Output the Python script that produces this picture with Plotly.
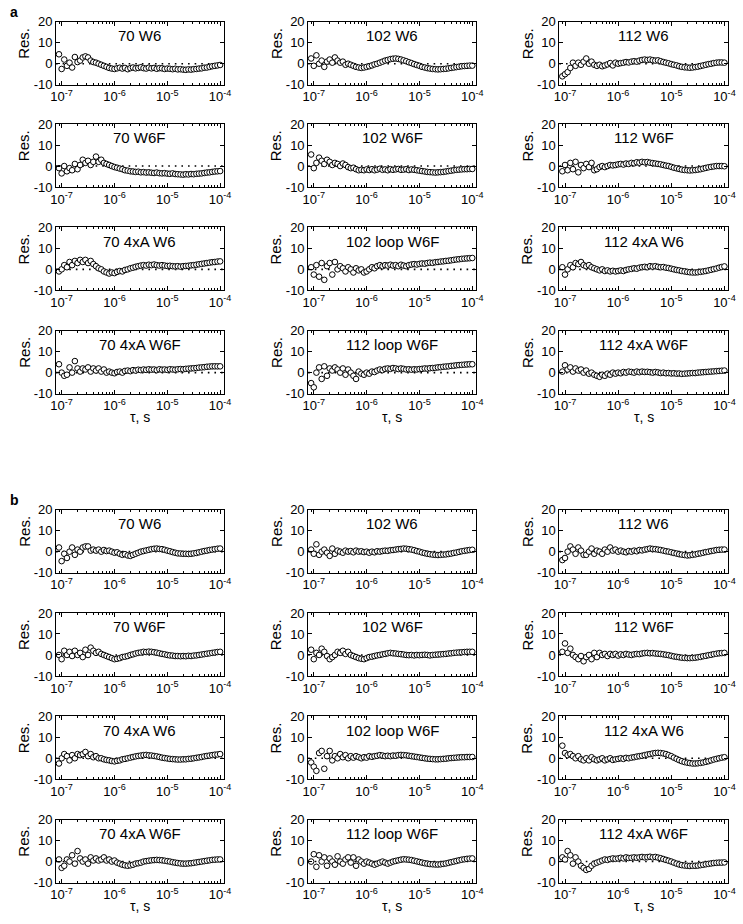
import plotly.graph_objects as go

# ---------------- data ----------------
tau = [8.91e-8, 1.00e-7, 1.12e-7, 1.26e-7, 1.41e-7, 1.58e-7, 1.78e-7, 2.00e-7, 2.24e-7, 2.51e-7,
       2.82e-7, 3.16e-7, 3.55e-7, 3.98e-7, 4.47e-7, 5.01e-7, 5.62e-7, 6.31e-7, 7.08e-7, 7.94e-7,
       8.91e-7, 1.00e-6, 1.12e-6, 1.26e-6, 1.41e-6, 1.58e-6, 1.78e-6, 2.00e-6, 2.24e-6, 2.51e-6,
       2.82e-6, 3.16e-6, 3.55e-6, 3.98e-6, 4.47e-6, 5.01e-6, 5.62e-6, 6.31e-6, 7.08e-6, 7.94e-6,
       8.91e-6, 1.00e-5, 1.12e-5, 1.26e-5, 1.41e-5, 1.58e-5, 1.78e-5, 2.00e-5, 2.24e-5, 2.51e-5,
       2.82e-5, 3.16e-5, 3.55e-5, 3.98e-5, 4.47e-5, 5.01e-5, 5.62e-5, 6.31e-5, 7.08e-5, 7.94e-5,
       8.91e-5, 1.00e-4]

titles = ["70 W6", "102 W6", "112 W6",
          "70 W6F", "102 W6F", "112 W6F",
          "70 4xA W6", "102 loop W6F", "112 4xA W6",
          "70 4xA W6F", "112 loop W6F", "112 4xA W6F"]

x_tickvals = [1e-7, 1e-6, 1e-5, 1e-4]
x_ticktext = ["10<sup>-7</sup>", "10<sup>-6</sup>", "10<sup>-5</sup>", "10<sup>-4</sup>"]
y_tickvals = [-10, 0, 10, 20]
y_ticktext = ["-10", "0", "10", "20"]

# ---- section a ----
res_a_70_W6 = [4.5, -2.5, 2.0, -1.0, 0.5, -1.8, 3.2, 0.8, 1.5, 3.0,
               3.5, 3.0, 1.5, 0.8, 0.5, 0.0, -0.5, -1.0, -1.5, -2.0,
               -2.3, -2.5, -2.2, -1.9, -2.3, -2.0, -2.6, -2.1, -1.8, -2.2,
               -2.0, -1.7, -2.1, -2.3, -1.9, -2.2, -2.0, -2.4, -2.1, -2.2,
               -2.5, -2.3, -2.4, -2.6, -2.4, -2.7, -2.6, -2.8, -2.9, -2.7,
               -2.8, -2.6, -2.5, -2.3, -2.2, -1.9, -1.8, -1.5, -1.2, -1.0,
               -0.8, -0.6]
res_a_102_W6 = [2.5, -1.0, 4.0, 0.0, 1.5, -1.5, 1.0, 2.0, 0.5, 3.0,
                1.5, 0.5, 1.0, -0.5, 0.0, -0.5, -1.0, -1.5, -1.8, -2.0,
                -1.8, -1.5, -1.2, -0.8, -0.3, 0.0, 0.5, 1.0, 1.5, 1.8,
                2.2, 2.4, 2.5, 2.3, 2.0, 1.6, 1.2, 0.7, 0.3, -0.2,
                -0.6, -1.0, -1.5, -1.8, -2.1, -2.3, -2.5, -2.6, -2.7, -2.6,
                -2.5, -2.4, -2.2, -2.0, -1.8, -1.6, -1.4, -1.2, -1.1, -1.0,
                -0.9, -0.9]
res_a_112_W6 = [-6.0, -5.0, -4.0, -2.0, 0.5, -1.0, 0.5, -0.5, 1.0, 2.5,
                0.0, 1.0, -0.5, -1.0, -0.5, -1.2, -0.8, -0.3, 0.3, -0.8,
                0.5, 0.0, 0.3, 0.5, 0.8, 0.6, 1.0, 1.2, 1.0, 1.5,
                1.8, 2.0, 1.8, 2.0, 1.7, 1.5, 1.6, 1.2, 0.8, 0.5,
                0.2, -0.2, -0.5, -0.8, -1.2, -1.5, -1.7, -1.8, -1.9, -1.8,
                -1.6, -1.4, -1.1, -0.8, -0.5, -0.2, 0.0, 0.3, 0.5, 0.6,
                0.6, 0.5]
res_a_70_W6F = [-1.0, -3.5, 0.0, -2.5, -1.0, -2.0, 1.0, -1.5, 0.5, 3.0,
                1.5, 2.5, 0.5, 2.0, 4.5, 2.0, 3.0, 1.5, 1.0, 0.5,
                0.0, -0.5, -0.8, -1.2, -1.5, -2.0, -2.2, -2.5, -2.6, -2.8,
                -2.7, -3.0, -2.9, -3.1, -3.0, -3.2, -3.3, -3.1, -3.4, -3.5,
                -3.4, -3.6, -3.7, -3.5, -3.8, -3.9, -4.0, -4.1, -3.9, -4.0,
                -3.8, -3.9, -3.7, -3.6, -3.5, -3.3, -3.1, -3.0, -2.8, -2.6,
                -2.5, -2.4]
res_a_102_W6F = [5.5, -1.0, 1.5, 4.0, 2.5, 1.0, 3.0, 2.0, 0.5, 1.5,
                 1.0, 0.0, 1.2, 0.5, -0.5, -1.0, -0.8, -1.5, -2.0, -1.8,
                 -2.0, -1.6, -1.9, -1.5, -2.0, -1.7, -1.3, -1.8, -1.6, -2.0,
                 -1.5, -1.8, -1.6, -1.4, -1.8, -1.7, -1.5, -1.9, -1.6, -1.8,
                 -2.0, -2.2, -2.4, -2.6, -2.8, -2.9, -3.0, -3.1, -3.0, -2.9,
                 -2.8, -2.6, -2.4, -2.2, -2.0, -1.8, -1.7, -1.6, -1.5, -1.5,
                 -1.4, -1.4]
res_a_112_W6F = [-2.5, 0.5, -2.0, 1.5, -1.5, 2.0, -3.0, 0.5, -1.0, 1.0,
                 -0.5, 1.5, -2.0, -1.5, -0.5, 0.0, -0.5, 0.0, 0.5, 0.3,
                 0.5, 0.8, 1.0, 0.7, 1.2, 1.0, 1.5, 1.3, 1.8, 1.6,
                 2.0, 1.8, 1.9, 1.6, 1.4, 1.2, 1.0, 0.8, 0.5, 0.2,
                 0.0, -0.4, -0.8, -1.1, -1.4, -1.7, -1.9, -2.0, -2.1, -2.0,
                 -1.9, -1.7, -1.5, -1.2, -0.9, -0.6, -0.4, -0.2, 0.0, 0.0,
                 0.0, -0.1]
res_a_70_4xA_W6 = [-1.0, 0.0, 2.0, 1.0, 3.5, 2.0, 4.0, 3.0, 4.5, 3.5,
                   4.5, 3.0, 4.0, 2.5, 1.5, 0.5, 0.0, -1.0, -1.5, -2.0,
                   -1.5, -1.8, -1.2, -0.8, -1.0, -0.3, 0.0, 0.5, 0.8, 1.2,
                   1.5, 1.8, 2.0, 1.8, 2.2, 2.0, 2.3, 2.0, 1.8, 2.0,
                   1.8, 1.6, 1.7, 1.5, 1.4, 1.5, 1.3, 1.5, 1.6, 1.7,
                   1.9, 2.0, 2.2, 2.4, 2.6, 2.8, 3.0, 3.2, 3.4, 3.5,
                   3.7, 3.8]
res_a_102_loop_W6F = [1.0, -2.5, 2.0, -3.5, 3.0, -5.0, 1.5, 3.0, -2.5, 3.5,
                      0.0, 1.5, 0.5, -1.0, 1.0, 0.0, -1.5, 0.5, -0.5, 0.0,
                      -1.5, -1.0, 0.0, 1.0, 0.5, 1.5, 2.0, 1.5, 2.0, 1.8,
                      2.2, 1.8, 2.0, 1.5, 2.2, 1.8, 1.5, 2.0, 2.3, 2.5,
                      2.3, 2.6, 2.8, 2.7, 3.0, 3.2, 3.1, 3.4, 3.5, 3.7,
                      3.8, 4.0, 4.1, 4.3, 4.5, 4.7, 4.8, 5.0, 5.1, 5.2,
                      5.3, 5.4]
res_a_112_4xA_W6 = [1.0, -2.5, 0.0, 2.0, 1.0, 3.0, 2.5, 3.5, 2.0, 1.5,
                    2.0, 1.0, 0.5, 0.0, -0.5, 0.0, -0.8, -0.5, -1.0, -0.7,
                    -1.0, -0.8, -0.5, -0.8, -0.3, 0.0, 0.2, 0.5, 0.3, 0.8,
                    1.0, 1.2, 1.0, 1.5, 1.3, 1.5, 1.2, 1.0, 1.1, 0.8,
                    0.6, 0.3, 0.0, -0.3, -0.5, -0.8, -1.0, -1.2, -1.4, -1.5,
                    -1.5, -1.4, -1.2, -1.0, -0.8, -0.5, -0.2, 0.1, 0.4, 0.8,
                    1.1, 1.4]
res_a_70_4xA_W6F = [4.0, 0.0, -1.5, -1.0, 2.5, 0.0, 5.5, 2.0, 0.5, 2.0,
                    1.5, 2.5, 0.5, 2.0, 1.0, 2.0, 0.5, 1.5, 0.0, 0.5,
                    0.0, -0.3, 0.3, 0.5, 0.0, 0.8, 1.0, 0.7, 1.2, 1.0,
                    1.4, 1.2, 1.5, 1.3, 1.6, 1.4, 1.5, 1.2, 1.6, 1.4,
                    1.5, 1.3, 1.6, 1.5, 1.4, 1.6, 1.7, 1.6, 1.8, 1.9,
                    2.0, 2.1, 2.2, 2.4, 2.5, 2.6, 2.8, 2.9, 3.0, 3.0,
                    3.0, 3.0]
res_a_112_loop_W6F = [-5.0, -7.0, 0.0, 2.5, -3.0, 3.0, -1.5, 2.0, 1.0, 2.5,
                      1.5, 0.0, 2.0, -1.0, 1.5, 0.0, -1.5, -3.0, 0.5, -0.5,
                      -1.0, 0.0, -0.5, 0.5, 0.3, 1.0, 1.5, 1.2, 1.8, 2.0,
                      1.8, 2.2, 2.0, 1.7, 2.0, 1.8, 1.5, 1.6, 1.4, 1.6,
                      1.5, 1.7, 1.8, 2.0, 1.9, 2.1, 2.2, 2.3, 2.5, 2.6,
                      2.8, 2.9, 3.0, 3.2, 3.3, 3.5, 3.6, 3.7, 3.8, 3.9,
                      4.0, 4.0]
res_a_112_4xA_W6F = [0.5, 3.5, 1.5, 2.5, 0.5, 2.0, 1.0, 1.5, 0.0, 1.0,
                     -0.5, 0.0, -1.0, -1.5, -2.0, -1.0, -1.5, -0.5, -1.0, 0.0,
                     -0.5, 0.0, -0.3, 0.3, 0.0, 0.5, 0.3, 0.0, 0.5, 0.2,
                     0.5, 0.3, 0.4, 0.2, 0.0, 0.3, 0.1, -0.2, 0.0, -0.3,
                     -0.2, -0.4, -0.3, -0.5, -0.4, -0.6, -0.5, -0.4, -0.3, -0.2,
                     -0.2, 0.0, 0.1, 0.2, 0.3, 0.4, 0.5, 0.6, 0.7, 0.8,
                     0.9, 1.0]

# ---- section b ----
res_b_70_W6 = [2.0, -4.5, -1.0, -3.0, 0.0, 2.0, -1.5, 1.0, 0.0, 2.0,
               2.5, 2.5, 0.5, 1.0, 0.5, 1.0, 0.0, 0.8, 0.3, 0.5,
               0.0, -0.5, -0.3, -1.0, -1.5, -1.2, -1.8, -2.0, -1.5, -1.0,
               -0.5, 0.0, 0.3, 0.6, 0.9, 1.2, 1.4, 1.5, 1.3, 1.2,
               0.9, 0.5, 0.2, -0.2, -0.5, -0.8, -0.9, -1.0, -1.0, -1.1,
               -1.0, -0.8, -0.6, -0.3, 0.0, 0.3, 0.5, 0.8, 1.0, 1.2,
               1.4, 1.5]
res_b_102_W6 = [1.0, -1.0, 3.5, -1.5, 0.0, 1.0, -0.5, -2.0, 1.5, -1.0,
                0.5, 0.0, -0.5, 0.5, 0.0, 0.3, -0.3, 0.5, 0.0, 0.2,
                -0.2, 0.0, -0.5, 0.0, -0.3, 0.2, 0.0, 0.3, 0.5, 0.4,
                0.7, 0.8, 1.0, 1.2, 1.3, 1.5, 1.4, 1.2, 1.0, 0.7,
                0.3, 0.0, -0.4, -0.7, -1.0, -1.2, -1.4, -1.5, -1.6, -1.5,
                -1.4, -1.3, -1.1, -0.9, -0.6, -0.4, -0.1, 0.2, 0.4, 0.6,
                0.8, 0.9]
res_b_112_W6 = [-4.0, -3.0, 0.0, 2.5, 1.0, -1.0, 2.0, 0.5, -1.5, -1.5,
                0.0, 1.5, -1.0, 0.5, 0.0, -1.0, 1.0, 0.0, 2.0, 0.5,
                1.0, 0.0, 0.5, 0.0, -0.3, 0.3, 0.0, 0.5, 0.2, 0.8,
                0.6, 1.0, 1.2, 1.5, 1.3, 1.2, 1.0, 0.8, 0.5, 0.2,
                0.0, -0.3, -0.6, -0.9, -1.2, -1.4, -1.6, -1.8, -1.7, -1.5,
                -1.3, -1.0, -0.8, -0.5, -0.2, 0.0, 0.3, 0.5, 0.8, 0.9,
                1.0, 1.0]
res_b_70_W6F = [0.0, -2.0, 2.0, 0.0, 1.5, -0.5, 2.0, 0.0, 1.0, -1.0,
                2.5, 0.0, 3.5, 2.0, 1.0, 1.5, 0.5, 0.0, -0.5, -1.0,
                -1.5, -2.0, -1.8, -1.5, -1.0, -0.8, -0.5, 0.0, 0.3, 0.7,
                1.0, 1.2, 1.5, 1.4, 1.6, 1.5, 1.3, 1.1, 0.8, 0.5,
                0.3, 0.0, -0.2, -0.3, -0.5, -0.5, -0.6, -0.5, -0.6, -0.4,
                -0.5, -0.3, -0.2, 0.0, 0.2, 0.4, 0.6, 0.8, 1.0, 1.2,
                1.4, 1.5]
res_b_102_W6F = [2.5, -2.0, 1.0, 0.0, 3.0, 1.5, -0.5, -2.0, -1.0, 0.0,
                 1.5, 1.0, 2.0, 0.5, 1.5, 0.0, -0.5, -1.0, -1.5, -1.8,
                 -2.0, -1.5, -1.0, -0.8, -0.5, -0.2, 0.0, 0.3, 0.5, 0.8,
                 1.0, 0.8, 0.7, 0.5, 0.4, 0.2, 0.0, -0.1, 0.0, -0.2,
                 0.0, -0.1, 0.0, 0.1, 0.0, -0.2, 0.0, 0.1, 0.2, 0.3,
                 0.4, 0.5, 0.7, 0.8, 1.0, 1.1, 1.2, 1.3, 1.4, 1.5,
                 1.5, 1.5]
res_b_112_W6F = [1.5, 5.5, 1.0, 3.0, 0.0, -1.0, -2.0, -0.5, -3.0, -1.0,
                 0.0, -2.0, 1.0, -1.0, 1.0, 0.0, 0.5, -0.5, 0.5, 0.0,
                 0.5, -0.3, 0.3, 0.0, 0.5, 0.2, 0.0, 0.3, 0.5, 0.4,
                 0.7, 0.9, 1.0, 0.8, 0.9, 0.7, 0.6, 0.5, 0.3, 0.1,
                 -0.1, -0.4, -0.7, -0.9, -1.1, -1.3, -1.4, -1.5, -1.5, -1.4,
                 -1.3, -1.1, -0.9, -0.6, -0.4, -0.1, 0.1, 0.4, 0.6, 0.8,
                 0.9, 1.0]
res_b_70_4xA_W6 = [-2.5, 0.0, 2.0, 1.0, -1.0, 1.5, 0.0, 2.0, 1.5, 2.0,
                   3.0, 1.0, 2.0, 0.5, 1.0, 0.0, 0.0, -0.5, -0.8, -1.0,
                   -1.3, -1.5, -1.2, -1.0, -0.5, -0.3, 0.0, 0.3, 0.6, 0.9,
                   1.1, 1.3, 1.5, 1.6, 1.4, 1.3, 1.1, 0.9, 0.6, 0.3,
                   0.1, -0.1, -0.3, -0.4, -0.5, -0.6, -0.6, -0.5, -0.5, -0.3,
                   -0.2, 0.0, 0.2, 0.4, 0.6, 0.9, 1.1, 1.3, 1.5, 1.7,
                   1.8, 2.0]
res_b_102_loop_W6F = [-2.0, -4.0, -6.0, 2.5, 3.5, -5.0, 1.0, 3.5, -1.0, 1.0,
                      0.0, 2.0, 0.5, 1.5, 0.0, 1.0, 0.3, 1.0, 0.5, 0.0,
                      0.5, 0.3, 1.0, 0.7, 1.0, 1.2, 1.5, 1.3, 1.0, 1.2,
                      1.0, 1.3, 1.2, 1.5, 1.6, 1.5, 1.4, 1.2, 1.0, 0.8,
                      0.6, 0.4, 0.2, 0.0, -0.2, -0.3, -0.4, -0.5, -0.5, -0.4,
                      -0.3, -0.2, 0.0, 0.1, 0.2, 0.3, 0.4, 0.5, 0.5, 0.6,
                      0.6, 0.6]
res_b_112_4xA_W6 = [6.0, 2.5, 1.5, 2.0, 1.0, 0.0, 1.0, -0.5, -1.0, 0.0,
                    -1.0, 0.5, -0.5, -1.0, -0.5, 0.0, -1.0, -0.5, 0.0, -0.8,
                    -0.5, -0.3, 0.0, -0.3, 0.2, 0.0, 0.3, 0.5, 0.8, 1.0,
                    1.2, 1.5, 1.8, 2.0, 2.3, 2.5, 2.6, 2.5, 2.3, 2.0,
                    1.5, 1.0, 0.3, -0.3, -0.9, -1.4, -1.8, -2.1, -2.3, -2.5,
                    -2.5, -2.4, -2.2, -2.0, -1.7, -1.4, -1.0, -0.6, -0.3, 0.0,
                    0.3, 0.5]
res_b_70_4xA_W6F = [1.0, -3.0, -2.0, 1.0, 0.0, 3.0, -1.0, 5.0, 1.5, 0.0,
                    1.0, -1.0, 2.0, 0.5, 1.5, 0.5, 1.0, 2.0, 0.5, 1.0,
                    0.0, 0.5, -0.5, -1.0, -1.5, -1.8, -2.0, -1.8, -1.5, -1.0,
                    -0.8, -0.5, 0.0, 0.2, 0.4, 0.6, 0.7, 0.8, 0.7, 0.6,
                    0.4, 0.2, 0.0, -0.3, -0.5, -0.7, -0.9, -1.0, -1.0, -0.9,
                    -0.8, -0.6, -0.4, -0.2, 0.0, 0.2, 0.4, 0.6, 0.8, 0.9,
                    1.0, 1.0]
res_b_112_loop_W6F = [0.0, 3.5, -2.5, 3.0, 0.0, 2.0, -2.0, 1.5, 0.0, -1.5,
                      2.5, 0.0, -1.0, 1.0, 2.0, -0.5, 2.0, -2.0, 1.0, 0.0,
                      -1.0, 0.0, -0.5, -1.0, -1.5, -1.0, -0.5, 0.0, -0.5, -1.0,
                      -0.5, 0.0, 0.3, 0.6, 0.9, 1.1, 1.0, 0.9, 0.7, 0.4,
                      0.1, -0.2, -0.5, -0.8, -1.0, -1.2, -1.3, -1.4, -1.4, -1.3,
                      -1.1, -0.9, -0.6, -0.3, 0.0, 0.3, 0.6, 0.9, 1.1, 1.3,
                      1.4, 1.5]
res_b_112_4xA_W6F = [2.0, 1.0, 5.0, 3.0, -1.0, 2.0, 0.0, -2.0, -3.0, -4.0,
                     -3.5, -2.0, -1.0, -0.5, 0.0, 0.5, 1.0, 0.8, 1.2, 1.5,
                     1.3, 1.5, 1.8, 1.5, 2.0, 1.7, 1.8, 2.0, 1.8, 2.0,
                     2.2, 2.0, 2.1, 2.3, 2.0, 2.2, 1.9, 1.6, 1.2, 0.8,
                     0.4, 0.0, -0.5, -1.0, -1.4, -1.7, -1.9, -2.0, -2.1, -2.0,
                     -2.0, -1.9, -1.7, -1.5, -1.3, -1.1, -0.9, -0.7, -0.6, -0.5,
                     -0.5, -0.4]

section_a = [res_a_70_W6, res_a_102_W6, res_a_112_W6,
             res_a_70_W6F, res_a_102_W6F, res_a_112_W6F,
             res_a_70_4xA_W6, res_a_102_loop_W6F, res_a_112_4xA_W6,
             res_a_70_4xA_W6F, res_a_112_loop_W6F, res_a_112_4xA_W6F]
section_b = [res_b_70_W6, res_b_102_W6, res_b_112_W6,
             res_b_70_W6F, res_b_102_W6F, res_b_112_W6F,
             res_b_70_4xA_W6, res_b_102_loop_W6F, res_b_112_4xA_W6,
             res_b_70_4xA_W6F, res_b_112_loop_W6F, res_b_112_4xA_W6F]

# ---------------- layout ----------------
W, H = 743, 924
col_px = [(51, 222), (308, 479), (564, 736)]
row_tops = {"a": [15, 119, 224, 329], "b": [511, 616, 721, 826]}
box_h = 64
FONT = "Liberation Sans, Arial, sans-serif"

minor_vals = [8e-8, 9e-8] + [m * 10.0 ** d for d in (-7, -6, -5) for m in range(2, 10)]

fig = go.Figure()
layout = dict(width=W, height=H, margin=dict(l=0, r=0, t=0, b=0),
              paper_bgcolor="white", plot_bgcolor="white", showlegend=False,
              font=dict(family=FONT, color="black", size=13))
annotations = []
shapes = []

k = 0
for sec, data in (("a", section_a), ("b", section_b)):
    for idx, (title, vals) in enumerate(zip(titles, data)):
        k += 1
        r, c = divmod(idx, 3)
        x0p, x1p = col_px[c]
        top = row_tops[sec][r]
        xa = "x" if k == 1 else f"x{k}"
        ya = "y" if k == 1 else f"y{k}"
        xkey = "xaxis" if k == 1 else f"xaxis{k}"
        ykey = "yaxis" if k == 1 else f"yaxis{k}"
        layout[xkey] = dict(
            domain=[x0p / W, x1p / W], anchor=ya, type="log",
            range=[-7.106, -3.93], tickvals=x_tickvals, ticktext=x_ticktext,
            ticks="inside", ticklen=4, tickwidth=1, tickcolor="black",
            showline=True, linecolor="black", linewidth=1, mirror="allticks",
            showgrid=False, zeroline=False,
            tickfont=dict(family=FONT, size=13, color="black"),
            minor=dict(tickvals=minor_vals, ticks="inside", ticklen=2,
                       tickcolor="black", tickwidth=1, showgrid=False),
        )
        layout[ykey] = dict(
            domain=[1 - (top + box_h) / H, 1 - top / H], anchor=xa,
            range=[-10, 20], tickvals=y_tickvals, ticktext=y_ticktext,
            ticks="inside", ticklen=4, tickwidth=1, tickcolor="black",
            showline=True, linecolor="black", linewidth=1, mirror="allticks",
            showgrid=False, zeroline=False,
            tickfont=dict(family=FONT, size=13, color="black"),
        )
        fig.add_trace(go.Scatter(
            x=tau, y=vals, xaxis=xa, yaxis=ya, mode="markers",
            marker=dict(symbol="circle", size=5.6, color="white",
                        line=dict(color="black", width=1)),
            cliponaxis=False, hoverinfo="skip"))
        shapes.append(dict(type="line", xref=f"{xa} domain", yref=ya,
                           x0=0, x1=1, y0=0, y1=0, layer="below",
                           line=dict(color="black", width=1.6, dash="1.6px,5px")))
        annotations.append(dict(text=title, xref=f"{xa} domain", yref=f"{ya} domain",
                                x=0.5, y=1 - 14 / box_h, showarrow=False,
                                xanchor="center", yanchor="middle",
                                font=dict(family=FONT, size=15, color="black")))
        annotations.append(dict(text="Res.", xref="paper", yref=f"{ya} domain",
                                x=(x0p - 33) / W, y=0.66, textangle=-90, showarrow=False,
                                xanchor="center", yanchor="middle",
                                font=dict(family=FONT, size=15, color="black")))
        if r == 3:
            annotations.append(dict(text="τ, s", xref=f"{xa} domain", yref=f"{ya} domain",
                                    x=0.5, y=-24 / box_h, showarrow=False,
                                    xanchor="center", yanchor="middle",
                                    font=dict(family=FONT, size=14, color="black")))

annotations.append(dict(text="<b>a</b>", xref="paper", yref="paper", x=2 / W, y=1 - 5 / H,
                        showarrow=False, xanchor="left", yanchor="middle",
                        font=dict(family=FONT, size=14, color="black")))
annotations.append(dict(text="<b>b</b>", xref="paper", yref="paper", x=2 / W,
                        y=1 - (row_tops["b"][0] - 10) / H,
                        showarrow=False, xanchor="left", yanchor="middle",
                        font=dict(family=FONT, size=14, color="black")))

layout["annotations"] = annotations
layout["shapes"] = shapes
fig.update_layout(**layout)
fig.write_html("out.html", config={"displayModeBar": False},
               post_script="document.body.style.margin='0px';document.body.style.padding='0px';")
